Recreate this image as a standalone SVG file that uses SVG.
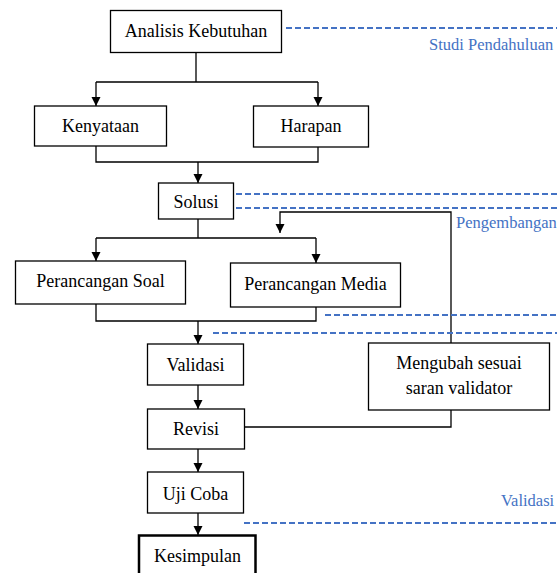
<svg xmlns="http://www.w3.org/2000/svg" width="557" height="573" viewBox="0 0 557 573">
<defs>
<marker id="arr" viewBox="0 0 10 10" refX="10" refY="5" markerWidth="9" markerHeight="10" orient="auto" markerUnits="userSpaceOnUse">
<path d="M0,0 L10,5 L0,10 z" fill="#000"/>
</marker>
<style>
.box{fill:#fff;stroke:#000;stroke-width:1.3}
.t{font-size:18px;fill:#000;text-anchor:middle}
.b{font-size:16.5px;fill:#4472C4}
.c{fill:none;stroke:#000;stroke-width:1.3}
.d{fill:none;stroke:#4472C4;stroke-width:2;stroke-dasharray:6 3}
</style>
</defs>
<rect width="557" height="573" fill="#fff"/>
<g id="connectors">
<path class="c" d="M196,53 V82 M96,82 H318"/>
<path class="c" d="M96,82 V106" marker-end="url(#arr)"/>
<path class="c" d="M318,82 V106" marker-end="url(#arr)"/>
<path class="c" d="M96,146 V162 H318 V147"/>
<path class="c" d="M198,162 V183" marker-end="url(#arr)"/>
<path class="c" d="M198,219 V238 M96,238 H316"/>
<path class="c" d="M96,238 V261" marker-end="url(#arr)"/>
<path class="c" d="M316,238 V263" marker-end="url(#arr)"/>
<path class="c" d="M96,304 V321 H316 V307"/>
<path class="c" d="M198,321 V344" marker-end="url(#arr)"/>
<path class="c" d="M451,343 V212 H280 V233" marker-end="url(#arr)"/>
<path class="c" d="M198,385 V409" marker-end="url(#arr)"/>
<path class="c" d="M245,427 H451 V410"/>
<path class="c" d="M198,449 V472" marker-end="url(#arr)"/>
<path class="c" d="M198,513 V535" marker-end="url(#arr)"/>
</g>
<g font-family="'Liberation Serif', 'DejaVu Serif', serif">
<g id="phases">
<path class="d" d="M286,28 H557 M236,194 H557 M236,208 H557 M325,315 H557 M213,333 H557 M244,523 H557"/>
<text class="b" x="429" y="49.5">Studi Pendahuluan</text>
<text class="b" x="456" y="228">Pengembangan</text>
<text class="b" x="501" y="506">Validasi</text>
</g>
<g id="analisis"><rect class="box" x="110.5" y="10.5" width="171" height="42"/><text class="t" x="196" y="37">Analisis Kebutuhan</text></g>
<g id="kenyataan"><rect class="box" x="34.5" y="106" width="132" height="40"/><text class="t" x="100.5" y="132">Kenyataan</text></g>
<g id="harapan"><rect class="box" x="253.5" y="106" width="115" height="41"/><text class="t" x="311" y="132">Harapan</text></g>
<g id="solusi"><rect class="box" x="158.5" y="183" width="75" height="36"/><text class="t" x="196" y="208">Solusi</text></g>
<g id="soal"><rect class="box" x="15.5" y="261" width="170" height="43"/><text class="t" x="100.5" y="287">Perancangan Soal</text></g>
<g id="media"><rect class="box" x="230.5" y="263" width="170" height="44"/><text class="t" x="315.5" y="290">Perancangan Media</text></g>
<g id="validasi"><rect class="box" x="147.5" y="344" width="96" height="41"/><text class="t" x="195.5" y="370.5">Validasi</text></g>
<g id="mengubah"><rect class="box" x="368.5" y="343" width="181" height="67"/><text class="t" x="459" y="369">Mengubah sesuai</text><text class="t" x="459" y="394">saran validator</text></g>
<g id="revisi"><rect class="box" x="147.5" y="409" width="97" height="40"/><text class="t" x="196" y="435">Revisi</text></g>
<g id="ujicoba"><rect class="box" x="147.5" y="472" width="96" height="41"/><text class="t" x="195.5" y="500">Uji Coba</text></g>
<g id="kesimpulan"><rect x="139" y="535.5" width="116.5" height="45" fill="#fff" stroke="#000" stroke-width="2.5"/><text class="t" x="197.5" y="561.5">Kesimpulan</text></g>
</g>
</svg>
